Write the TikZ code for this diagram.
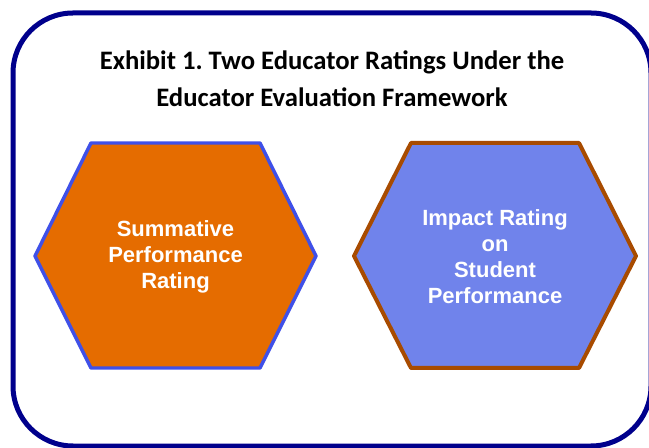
\documentclass[tikz,border=0pt]{standalone}
\usepackage{fontspec}
\setmainfont{Carlito}
\newfontfamily\arialfont{Liberation Sans}
\usepackage{xcolor}
\definecolor{frm}{RGB}{0, 0, 140}
\definecolor{org}{RGB}{229, 108, 0}
\definecolor{blu}{RGB}{63, 80, 232}
\definecolor{lav}{RGB}{112, 131, 235}
\definecolor{brn}{RGB}{168, 75, 0}
\tikzset{
  hextext/.style={text=white, align=center, font=\arialfont\bfseries\fontsize{16.5}{19.5}\selectfont}
}
\frenchspacing

\begin{document}
\begin{tikzpicture}[x=0.75pt, y=-0.75pt]
      \useasboundingbox (0, 0) rectangle (649, 448);
      \draw[color=frm, line width=3.75pt, rounded corners=45pt] (13, 13) rectangle (651, 446);
      \node(title) at (332, 79) [align=center, font=\bfseries\fontsize{20}{27.7}\selectfont] {Exhibit 1. Two Educator Ratings Under the\\Educator Evaluation Framework};
      \draw[fill=org, draw=blu, line width=2.6pt, line join=round] (91, 143)--(260, 143)--(316, 256)--(260, 368)--(91, 368)--(35, 256)--cycle;
      \node(summ) at (175.5, 256.5) [hextext] {Summative\\Performance\\Rating};
      \draw[fill=lav, draw=brn, line width=3pt, line join=round] (411, 143)--(579, 143)--(636, 256)--(579, 368)--(411, 368)--(354, 256)--cycle;
      \node(impact) at (495, 256.5) [hextext] {Impact Rating\\on\\Student\\Performance};
    \end{tikzpicture}
\end{document}
